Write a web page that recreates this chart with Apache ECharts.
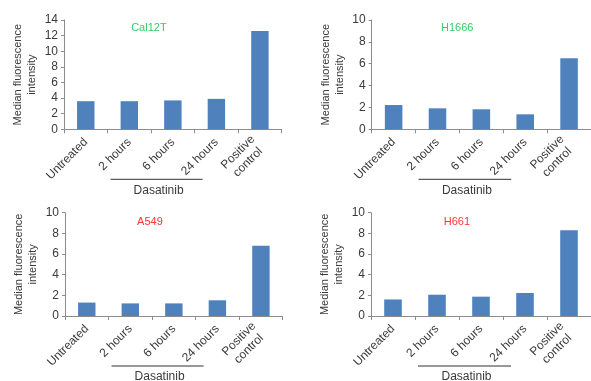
<!DOCTYPE html>
<html>
<head>
<meta charset="utf-8">
<script src="https://cdn.jsdelivr.net/npm/echarts@6/dist/echarts.min.js"></script>
<style>
html,body{margin:0;padding:0;background:#fff;}
#c{width:591px;height:381px;}
</style>
</head>
<body>
<div id="c"></div>
<script>
const categories = ['Untreated', '2 hours', '6 hours', '24 hours', 'Positive\ncontrol'];
const cellLines = ['Cal12T', 'H1666', 'A549', 'H661'];
const titleColors = ['#33cc66', '#33cc66', '#ff3333', '#ff3333'];
const cal12tValues = [3.6, 3.6, 3.7, 3.9, 12.6];
const h1666Values = [2.22, 1.92, 1.83, 1.37, 6.5];
const a549Values = [1.3, 1.22, 1.22, 1.52, 6.8];
const h661Values = [1.6, 2.06, 1.87, 2.23, 8.3];
const yMax = [14, 10, 10, 10];
const yInterval = 2;
const groupLabel = 'Dasatinib';
const yAxisTitle = 'Median fluorescence\nintensity';

const allValues = [cal12tValues, h1666Values, a549Values, h661Values];

const grids = [
  {left: 64, top: 20, width: 217.7, height: 109.3},
  {left: 371.7, top: 20, width: 225, height: 109.3},
  {left: 65, top: 212.7, width: 217.7, height: 103.3},
  {left: 371, top: 212.7, width: 226, height: 103.3}
];

const textColor = '#3a3a3a';
const axisColor = '#8c8c8c';
const font = 'Liberation Sans, Arial, sans-serif';

const chart = echarts.init(document.getElementById('c'), null, {renderer: 'canvas'});

const option = {
  animation: false,
  backgroundColor: '#fff',
  textStyle: {fontFamily: font},
  grid: grids.map(g => Object.assign({containLabel: false}, g)),
  title: cellLines.map((name, i) => ({
    text: name,
    left: grids[i].left + grids[i].width * (i % 2 === 0 ? 0.39 : 0.38) - 5,
    top: grids[i].top + (i < 2 ? -3 : -1),
    textAlign: 'center',
    textStyle: {fontSize: 11, fontWeight: 'normal', color: titleColors[i], fontFamily: font}
  })),
  xAxis: allValues.map((v, i) => ({
    type: 'category',
    gridIndex: i,
    data: categories,
    boundaryGap: true,
    axisLine: {lineStyle: {color: axisColor, width: 1}},
    axisTick: {show: true, length: 4, lineStyle: {color: axisColor}},
    axisLabel: {
      rotate: 45,
      interval: 0,
      margin: 11,
      fontSize: 12,
      color: textColor,
      fontFamily: font,
      formatter: function (val) {
        if (val.indexOf('\n') >= 0) {
          return val.split('\n').map(s => '{c|' + s + '}').join('\n');
        }
        return val;
      },
      rich: {c: {width: 48, align: 'center', fontSize: 12, color: textColor, fontFamily: font, lineHeight: 14}}
    }
  })),
  yAxis: allValues.map((v, i) => ({
    type: 'value',
    gridIndex: i,
    min: 0,
    max: yMax[i],
    interval: yInterval,
    name: yAxisTitle,
    nameLocation: 'middle',
    nameRotate: 90,
    nameGap: 25,
    nameTextStyle: {fontSize: 11, color: textColor, lineHeight: 14, fontFamily: font},
    axisLine: {show: true, lineStyle: {color: axisColor, width: 1}},
    axisTick: {show: true, length: 3, lineStyle: {color: axisColor}},
    splitLine: {show: false},
    axisLabel: {fontSize: 12, color: textColor, margin: 6, fontFamily: font}
  })),
  series: allValues.map((v, i) => ({
    type: 'bar',
    xAxisIndex: i,
    yAxisIndex: i,
    data: v,
    barWidth: '40%',
    itemStyle: {color: '#4f81bd'}
  }))
};
chart.setOption(option);

// Dasatinib bracket placed from axis scale positions
const graphics = [];
for (let i = 0; i < 4; i++) {
  const c1 = chart.convertToPixel({xAxisIndex: i, yAxisIndex: i}, [1, 0]);
  const c3 = chart.convertToPixel({xAxisIndex: i, yAxisIndex: i}, [3, 0]);
  const c0 = chart.convertToPixel({xAxisIndex: i, yAxisIndex: i}, [0, 0]);
  const band = c1[0] - c0[0];
  const x1 = c1[0] - band / 2 + 3;
  const x2 = c3[0] - band / 2 + 8;
  const y = c0[1] + 50;
  graphics.push({
    type: 'line',
    shape: {x1: x1, y1: y, x2: x2, y2: y},
    style: {stroke: '#333', lineWidth: 1}
  });
  graphics.push({
    type: 'text',
    x: (x1 + x2) / 2 + 2,
    y: y + 11,
    style: {text: groupLabel, fill: textColor, font: '12px ' + font, textAlign: 'center', textVerticalAlign: 'middle'}
  });
}
chart.setOption({graphic: graphics});
</script>
</body>
</html>
